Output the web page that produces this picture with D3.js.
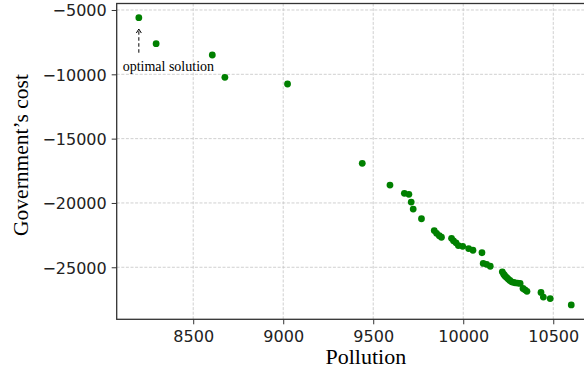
<!DOCTYPE html>
<html>
<head>
<meta charset="utf-8">
<script src="https://cdn.jsdelivr.net/npm/d3@7"></script>
<style>
  html, body { margin: 0; padding: 0; background: #fff; }
  svg { display: block; }
</style>
</head>
<body>
<svg id="chart" width="584" height="368"></svg>
<script>
const pollution = [8198, 8294, 8606, 8676, 9024, 9439, 9593, 9673, 9698, 9711, 9722, 9768,
  9839, 9852, 9867, 9879, 9935, 9946, 9960, 9973, 9997, 10030, 10054, 10104, 10111, 10130,
  10150, 10217, 10224, 10229, 10235, 10243, 10250, 10259, 10269, 10279, 10289, 10302, 10316,
  10332, 10343, 10354, 10432, 10445, 10483, 10600];
const cost = [-5599, -7620, -8499, -10233, -10754, -16921, -18608, -19254, -19331, -19930, -20474, -21229,
  -22146, -22364, -22551, -22667, -22753, -22947, -23103, -23312, -23375, -23546, -23678, -23872, -24697, -24774,
  -24922, -25350, -25529, -25620, -25723, -25820, -25918, -26020, -26127, -26170, -26205, -26230, -26252,
  -26641, -26750, -26866, -26952, -27317, -27434, -27924];
const xTicks = [8500, 9000, 9500, 10000, 10500];
const yTicks = [-5000, -10000, -15000, -20000, -25000];
const xDomain = [8075, 10843];
const yDomain = [-29044, -4495];
const annotation = { text: "optimal solution", x: 8108, y: -9720, tipY: -6480, tailY: -8320 };

(function () {
const svg = d3.select("#chart");
const mLeft = 116.7, mRight = 615, mTop = 3.5, mBottom = 319.3;
const x = d3.scaleLinear().domain(xDomain).range([mLeft, mRight]);
const y = d3.scaleLinear().domain(yDomain).range([mBottom, mTop]);
const fmt = d => (d < 0 ? "\u2212" : "") + Math.abs(d);

// grid
const grid = svg.append("g").attr("stroke", "#c4c4c4").attr("stroke-width", 0.8)
  .attr("stroke-dasharray", "3,1.6");
grid.selectAll(".gx").data(xTicks).join("line").attr("class", "gx")
  .attr("x1", d => x(d)).attr("x2", d => x(d)).attr("y1", mTop).attr("y2", mBottom);
grid.selectAll(".gy").data(yTicks).join("line").attr("class", "gy")
  .attr("y1", d => y(d)).attr("y2", d => y(d)).attr("x1", mLeft).attr("x2", mRight);

// axes
const xAxis = svg.append("g").attr("transform", `translate(0,${mBottom})`)
  .call(d3.axisBottom(x).tickValues(xTicks).tickFormat(fmt).tickSizeOuter(0).tickSize(5).tickPadding(6));
const yAxis = svg.append("g").attr("transform", `translate(${mLeft},0)`)
  .call(d3.axisLeft(y).tickValues(yTicks).tickFormat(fmt).tickSizeOuter(0).tickSize(5).tickPadding(5));
[xAxis, yAxis].forEach(a => {
  a.select(".domain").remove();
  a.selectAll("line").attr("stroke", "#333").attr("stroke-width", 1);
  a.selectAll("text").attr("font-family", "DejaVu Sans").attr("font-size", 16).attr("fill", "#222");
});
yAxis.selectAll("text").attr("dy", "0.36em");

// spines
svg.append("rect").attr("x", mLeft).attr("y", mTop).attr("width", mRight - mLeft).attr("height", mBottom - mTop)
  .attr("fill", "none").attr("stroke", "#333").attr("stroke-width", 1.3);

// points
svg.append("g").selectAll("circle").data(pollution.map((p, i) => [p, cost[i]])).join("circle")
  .attr("cx", d => x(d[0])).attr("cy", d => y(d[1])).attr("r", 3.4).attr("fill", "#008000");

// annotation
const ax = x(pollution[0]);
svg.append("line").attr("x1", ax).attr("x2", ax).attr("y1", y(annotation.tailY)).attr("y2", y(annotation.tipY) + 1)
  .attr("stroke", "#000").attr("stroke-width", 1).attr("stroke-dasharray", "3.5,2.5");
svg.append("path")
  .attr("d", `M${ax - 2.5},${y(annotation.tipY) + 4} L${ax},${y(annotation.tipY)} L${ax + 2.5},${y(annotation.tipY) + 4}`)
  .attr("fill", "none").attr("stroke", "#000").attr("stroke-width", 1);
svg.append("text").attr("x", x(annotation.x)).attr("y", y(annotation.y))
  .attr("font-family", "Liberation Serif").attr("font-size", 14).attr("fill", "#000")
  .text(annotation.text);

// axis labels
svg.append("text").attr("x", 365.8).attr("y", 364)
  .attr("text-anchor", "middle").attr("font-family", "Liberation Serif").attr("font-size", 22)
  .text("Pollution");
svg.append("text").attr("transform", "translate(28,155) rotate(-90)")
  .attr("text-anchor", "middle").attr("font-family", "Liberation Serif").attr("font-size", 21.5)
  .text("Government\u2019s cost");
})();
</script>
</body>
</html>
